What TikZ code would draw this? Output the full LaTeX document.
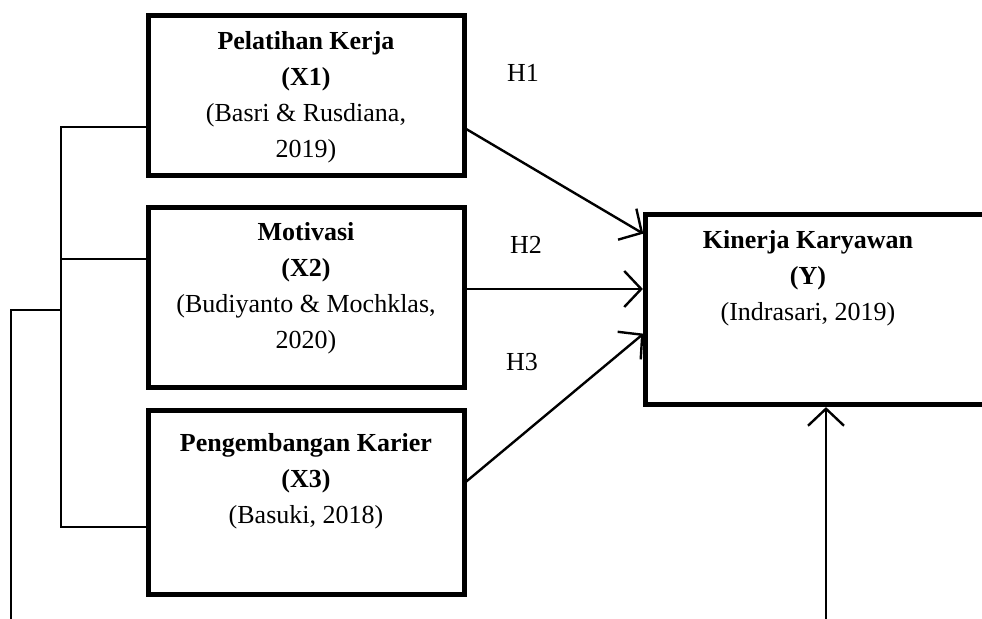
\documentclass[tikz,border=0pt]{standalone}
\usepackage{fontspec}
\setmainfont{Liberation Serif}
\usetikzlibrary{arrows.meta}
\usetikzlibrary{positioning}

\tikzset{
  varbox/.style={draw, line width=2.5pt, inner sep=0pt, outer sep=0pt},
  boxtext/.style={align=center, inner sep=0pt, font=\fontsize{13pt}{18pt}\selectfont},
  hyplabel/.style={inner sep=0pt, font=\fontsize{13pt}{18pt}\selectfont},
  link/.style={line width=1pt},
  effect/.style={line width=1.2pt, shorten >=1.3pt, -{Straight Barb[length=8.5pt,width=18pt,line width=1.2pt]}},
}

\begin{document}
\begin{tikzpicture}[x=0.5pt, y=-0.5pt]
    \clip (0,0) rectangle (982,619);
    % variable boxes
    \node[varbox, minimum width=158pt, minimum height=80pt] (x1) at (306.5,95.5) {};
    \node[varbox, minimum width=158pt, minimum height=90pt] (x2) at (306.5,297.5) {};
    \node[varbox, minimum width=158pt, minimum height=92pt] (x3) at (306.5,502.5) {};
    \node[varbox, minimum width=172.25pt, minimum height=95pt] (y) at (817.75,309.5) {};
    \node[boxtext] (x1t) at (306,97.5) {\textbf{Pelatihan Kerja}\\\textbf{(X1)}\\(Basri \& Rusdiana,\\2019)};
    \node[boxtext] (x2t) at (306,288.5) {\textbf{Motivasi}\\\textbf{(X2)}\\(Budiyanto \& Mochklas,\\2020)};
    \node[boxtext] (x3t) at (306,481) {\textbf{Pengembangan Karier}\\\textbf{(X3)}\\(Basuki, 2018)};
    \node[boxtext] (yt) at (808,278) {\textbf{Kinerja Karyawan}\\\textbf{(Y)}\\(Indrasari, 2019)};
    % hypotheses
    \node[hyplabel] (h1) at (523,73) {H1};
    \node[hyplabel] (h2) at (526,245) {H2};
    \node[hyplabel] (h3) at (522,362) {H3};
    % bracket on the left
    \coordinate (b1) at (61,127);
    \coordinate (b2) at (61,259);
    \coordinate (b3) at (61,527);
    \coordinate (o1) at (11,310);
    \coordinate (o2) at (11,619);
    \coordinate (s) at (826,619);
    \draw[link] (b1 -| x1.west) -- (b1) -- (b3) -- (b3 -| x3.west);
    \draw[link] (b2) -- (b2 -| x2.west);
    \draw[link] (o2) -- (o1) -- (o1 -| b1);
    % effects on Y
    \draw[effect] (x1.east |- 0,128) -- (y.west |- 0,235);
    \draw[effect] (x2.east |- 0,289) -- (y.west |- 0,289);
    \draw[effect] (x3.east |- 0,483) -- (y.west |- 0,332);
    \draw[effect] (s) -- (s |- y.south);
\end{tikzpicture}
\end{document}
